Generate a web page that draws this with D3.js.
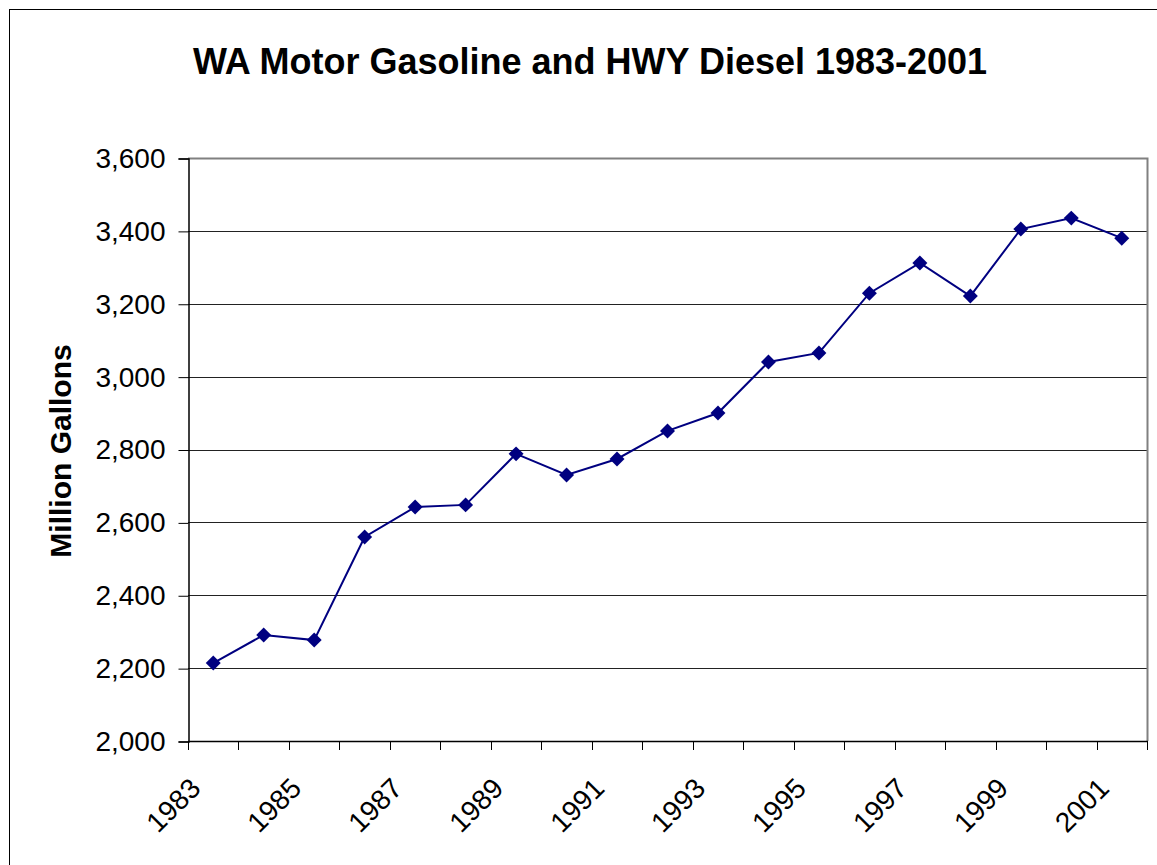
<!DOCTYPE html>
<html>
<head>
<meta charset="utf-8">
<script src="https://cdn.jsdelivr.net/npm/d3@7"></script>
<style>
  body { margin: 0; background: #fff; }
  svg { display: block; font-family: Arial, "Liberation Sans", sans-serif; }
</style>
</head>
<body>
<svg class="chart" width="1157" height="865"></svg>
<script>
// data
var years = ["1983", "1984", "1985", "1986", "1987", "1988", "1989", "1990", "1991", "1992",
             "1993", "1994", "1995", "1996", "1997", "1998", "1999", "2000", "2001"];
var gallons = [2214, 2291, 2277, 2560, 2642, 2648, 2788, 2730, 2774, 2851,
               2900, 3040, 3065, 3229, 3312, 3221, 3405, 3435, 3380];
var yTicks = [2000, 2200, 2400, 2600, 2800, 3000, 3200, 3400, 3600];
var xLabels = ["1983", "1985", "1987", "1989", "1991", "1993", "1995", "1997", "1999", "2001"];

var chart = (function() {

    var svg = d3.select("svg.chart");
    var plotLeft = 188, plotRight = 1147, plotTop = 158, plotBottom = 741;

    var x = d3.scaleBand().domain(years).range([plotLeft, plotRight]);
    var y = d3.scaleLinear().domain([2000, 3600]).range([plotBottom, plotTop]);

    function cx(d) { return x(d) + x.bandwidth() / 2; }

    function draw() {
        // chart border
        svg.append("rect")
            .attr("x", 9.5).attr("y", 9.5)
            .attr("width", 1160).attr("height", 870)
            .attr("fill", "#fff")
            .attr("stroke", "#000").attr("stroke-width", 1);

        // gridlines
        svg.selectAll(".grid")
            .data(yTicks.slice(1, -1))
            .enter()
                .append("line")
                .attr("class", "grid")
                .attr("x1", plotLeft).attr("x2", plotRight)
                .attr("y1", function(d) { return Math.round(y(d)) + 0.5; })
                .attr("y2", function(d) { return Math.round(y(d)) + 0.5; })
                .attr("stroke", "#222").attr("stroke-width", 1);

        // plot area frame (top, right) in gray
        svg.append("path")
            .attr("d", "M" + plotLeft + "," + (plotTop + 0.5) + "H" + (plotRight + 0.5) + "V" + plotBottom)
            .attr("fill", "none")
            .attr("stroke", "#808080").attr("stroke-width", 2);

        // y axis
        var yAxis = d3.axisLeft(y)
            .tickValues(yTicks)
            .tickSize(10)
            .tickPadding(13)
            .tickFormat(d3.format(","));
        var gy = svg.append("g")
            .attr("transform", "translate(" + (plotLeft + 0.5) + ",0.5)")
            .call(yAxis);
        gy.select(".domain").attr("stroke", "#000").attr("stroke-width", 1.5);
        gy.selectAll(".tick line").attr("stroke", "#000");
        gy.selectAll(".tick text")
            .attr("font-size", "28px")
            .attr("font-family", "Arial, 'Liberation Sans', sans-serif")
            .attr("fill", "#000");

        // x axis: ticks at category boundaries
        var bounds = years.map(function(d) { return x(d); }).concat([plotRight]);
        svg.append("line")
            .attr("x1", plotLeft).attr("x2", plotRight + 1)
            .attr("y1", plotBottom + 0.5).attr("y2", plotBottom + 0.5)
            .attr("stroke", "#000").attr("stroke-width", 1.5);
        svg.selectAll(".xtick")
            .data(bounds)
            .enter()
                .append("line")
                .attr("class", "xtick")
                .attr("x1", function(d) { return Math.round(d) + 0.5; })
                .attr("x2", function(d) { return Math.round(d) + 0.5; })
                .attr("y1", plotBottom).attr("y2", plotBottom + 9)
                .attr("stroke", "#000");

        svg.selectAll(".xlabel")
            .data(xLabels)
            .enter()
                .append("text")
                .attr("class", "xlabel")
                .attr("transform", function(d) {
                    return "translate(" + (cx(d) - 18) + "," + (plotBottom + 42) + ") rotate(-45)";
                })
                .attr("text-anchor", "end")
                .attr("dy", "0.35em")
                .attr("font-size", "28px")
                .attr("fill", "#000")
                .text(function(d) { return d; });

        // series line
        var line = d3.line()
            .x(function(d, i) { return cx(years[i]); })
            .y(function(d) { return y(d); });

        svg.append("path")
            .datum(gallons)
            .attr("d", line)
            .attr("fill", "none")
            .attr("stroke", "#000080")
            .attr("stroke-width", 2);

        svg.selectAll(".marker")
            .data(gallons)
            .enter()
                .append("path")
                .attr("class", "marker")
                .attr("d", d3.symbol().type(d3.symbolSquare).size(112))
                .attr("transform", function(d, i) {
                    return "translate(" + cx(years[i]) + "," + y(d) + ") rotate(45)";
                })
                .attr("fill", "#000080");

        // titles
        svg.append("text")
            .attr("x", 590).attr("y", 74)
            .attr("text-anchor", "middle")
            .attr("font-size", "36px")
            .attr("font-weight", "bold")
            .attr("fill", "#000")
            .text("WA Motor Gasoline and HWY Diesel 1983-2001");

        svg.append("text")
            .attr("transform", "translate(71,451) rotate(-90)")
            .attr("text-anchor", "middle")
            .attr("font-size", "30px")
            .attr("font-weight", "bold")
            .attr("fill", "#000")
            .text("Million Gallons");
    }

    return { draw: draw };
})();

chart.draw();
</script>
</body>
</html>
